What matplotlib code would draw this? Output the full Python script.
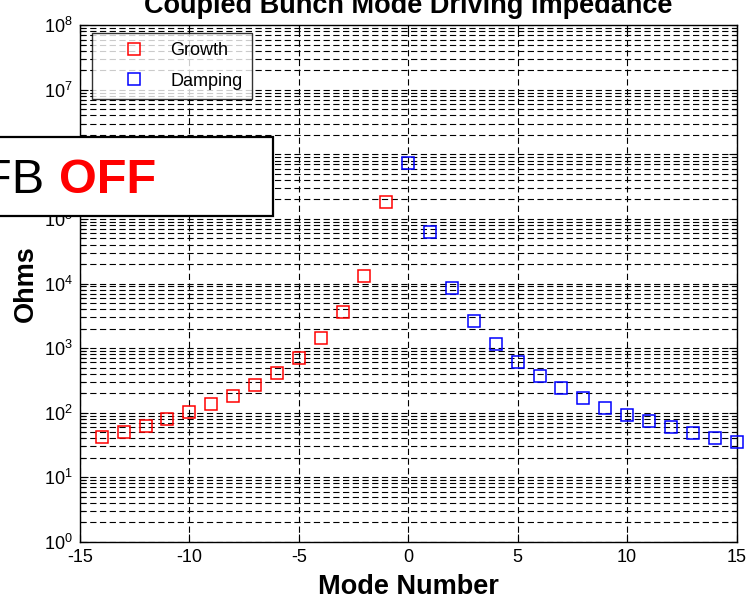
import numpy as np
import matplotlib
matplotlib.use("Agg")
import matplotlib.pyplot as plt
from matplotlib.patches import Rectangle
from matplotlib.ticker import LogLocator, FixedLocator, FuncFormatter, NullFormatter

plt.rcParams['font.family'] = ['Liberation Sans', 'DejaVu Sans']
plt.rcParams['mathtext.default'] = 'regular'
plt.rcParams['lines.scale_dashes'] = False
plt.rcParams['axes.unicode_minus'] = False

# coupled bunch modes and driving impedance (Ohms)
growth_modes = [-14, -13, -12, -11, -10, -9, -8, -7, -6, -5, -4, -3, -2, -1]
growth_ohms = [42, 50, 62, 79, 102, 134, 182, 269, 413, 705, 1440, 3560,
               13100, 182000]
damping_modes = [0, 1, 2, 3, 4, 5, 6, 7, 8, 9, 10, 11, 12, 13, 14, 15]
damping_ohms = [746000, 62900, 8370, 2610, 1150, 605, 371, 242, 166, 120,
                91.5, 73.8, 59.7, 48.6, 40.7, 34.9]

x_ticks = [-15, -10, -5, 0, 5, 10, 15]

fig = plt.figure(figsize=(7.47, 6.0), dpi=100)
ax = fig.add_axes([0.107, 0.097, 0.879, 0.861])

dash = (0, (4.5, 2.5))
ax.plot(growth_modes, growth_ohms, 's', ls='none', mfc='none', mec='#ff0000',
        ms=9, mew=1.1, label='Growth', zorder=3, clip_on=False)
ax.plot(damping_modes, damping_ohms, 's', ls='none', mfc='none', mec='#0000ff',
        ms=9, mew=1.1, label='Damping', zorder=3, clip_on=False)

ax.set_yscale('log')
ax.set_xlim(-15, 15)
ax.set_ylim(1, 1e8)

ax.xaxis.set_major_locator(FixedLocator(x_ticks))
ax.yaxis.set_major_locator(LogLocator(base=10, numticks=20))
ax.yaxis.set_minor_locator(LogLocator(base=10, subs=np.arange(2, 10), numticks=20))
ax.yaxis.set_major_formatter(FuncFormatter(lambda v, p: r'$10^{%d}$' % round(np.log10(v))))
ax.yaxis.set_minor_formatter(NullFormatter())

ax.grid(True, which='major', axis='both', color='black', lw=0.8, ls=dash)
ax.grid(True, which='minor', axis='y', color='black', lw=0.8, ls=dash)

ax.tick_params(which='both', direction='in', top=True, right=True,
               labelsize=13, color='black', pad=5)
ax.tick_params(which='major', length=6, width=0.8)
ax.tick_params(which='minor', length=3.5, width=0.8)
for s in ax.spines.values():
    s.set_linewidth(1.0)

ax.set_xlabel('Mode Number', fontsize=19.5, fontweight='bold', labelpad=6)
ax.set_ylabel('Ohms', fontsize=19.5, fontweight='bold', labelpad=4)

fig.text(0.546, 0.979, 'Coupled Bunch Mode Driving Impedance',
         ha='center', va='baseline', fontsize=19.5, fontweight='bold')

leg = ax.legend(loc='upper left', bbox_to_anchor=(0.0185, 0.985), fontsize=13,
                frameon=True, fancybox=False, edgecolor='black',
                borderpad=0.5, handletextpad=0.25, labelspacing=0.75,
                handlelength=3.6, borderaxespad=0)
leg.get_frame().set_linewidth(1.0)
leg.set_zorder(5)

# feedback status banner
box = Rectangle((-0.05, 0.6405), 0.415, 0.1317, transform=fig.transFigure,
                facecolor='white', edgecolor='black', lw=1.6, zorder=10,
                clip_on=False)
fig.add_artist(box)
fig.text(0.059, 0.678, 'FB', ha='right', va='baseline', fontsize=35,
         color='black', zorder=11)
fig.text(0.079, 0.678, 'OFF', ha='left', va='baseline', fontsize=35,
         fontweight='bold', color='#ff0000', zorder=11)

fig.savefig('out.png', dpi=100)
